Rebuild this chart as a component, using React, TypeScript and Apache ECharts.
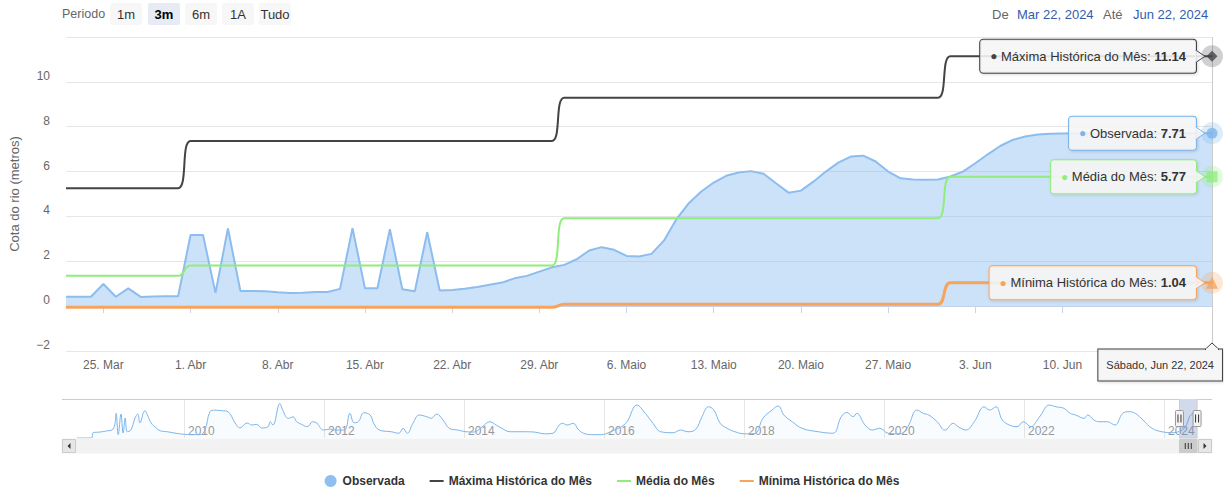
import React, { useEffect, useRef } from "react";
import * as echarts from "echarts";

const FONT = '"Lucida Grande", "Lucida Sans Unicode", "Liberation Sans", Arial, sans-serif';

// ---- data ----
const startDate = "2024-03-22";
// daily observed river level (m), Mar 22 .. Jun 22, 2024
const observada = [
  0.42, 0.42, 0.42, 0.99, 0.42, 0.79, 0.41, 0.43, 0.44, 0.44,
  3.17, 3.17, 0.59, 3.46, 0.68, 0.68, 0.66, 0.62, 0.59, 0.6,
  0.63, 0.63, 0.77, 3.48, 0.8, 0.8, 3.43, 0.75, 0.66, 3.3,
  0.7, 0.72, 0.78, 0.85, 0.95, 1.05, 1.24, 1.35, 1.54, 1.73,
  1.84, 2.09, 2.48, 2.63, 2.51, 2.24, 2.21, 2.33, 2.92, 3.87,
  4.59, 5.11, 5.51, 5.81, 5.96, 6.02, 5.9, 5.48, 5.06, 5.15,
  5.55, 6.0, 6.4, 6.67, 6.71, 6.45, 6.0, 5.7, 5.65, 5.63,
  5.65, 5.78, 6.0, 6.37, 6.77, 7.14, 7.41, 7.56, 7.65, 7.69,
  7.7, 7.71, 7.71, 7.71, 7.71, 7.71, 7.71, 7.71, 7.71, 7.71,
  7.71, 7.71, 7.71,
];
// monthly reference values (months: Mar, Apr, May, Jun — 0-based month index)
const months = [2, 3, 4, 5];
const maximaMes = [5.26, 7.36, 9.29, 11.14];
const mediaMes = [1.35, 1.81, 3.92, 5.77];
const minimaMes = [-0.05, -0.05, 0.08, 1.04];

// visible x tick labels (the 17. Jun one is hidden under the crosshair label in the reference)
const tickDates = [
  "2024-03-25", "2024-04-01", "2024-04-08", "2024-04-15", "2024-04-22", "2024-04-29",
  "2024-05-06", "2024-05-13", "2024-05-20", "2024-05-27", "2024-06-03", "2024-06-10",
];
const tickLabels = [
  "25. Mar", "1. Abr", "8. Abr", "15. Abr", "22. Abr", "29. Abr",
  "6. Maio", "13. Maio", "20. Maio", "27. Maio", "3. Jun", "10. Jun",
];

// navigator (full history), x in decimal years
const navYears = [
  2008.47, 2008.68, 2008.7, 2008.8, 2008.91, 2008.97, 2009.01, 2009.03, 2009.06, 2009.1, 2009.13, 2009.16,
  2009.19, 2009.24, 2009.3, 2009.34, 2009.37, 2009.44, 2009.49, 2009.53, 2009.59, 2009.66, 2009.76, 2009.84,
  2009.94, 2010.09, 2010.23, 2010.3, 2010.37, 2010.44, 2010.54, 2010.63, 2010.73, 2010.8, 2010.9, 2010.97,
  2011.04, 2011.11, 2011.2, 2011.23, 2011.27, 2011.37, 2011.41, 2011.49, 2011.56, 2011.61, 2011.7, 2011.76,
  2011.84, 2011.9, 2011.99, 2012.09, 2012.14, 2012.29, 2012.37, 2012.43, 2012.49, 2012.57, 2012.66, 2012.71,
  2012.79, 2012.96, 2013.07, 2013.13, 2013.19, 2013.27, 2013.36, 2013.47, 2013.53, 2013.61, 2013.7, 2013.79,
  2013.91, 2014.03, 2014.14, 2014.26, 2014.37, 2014.46, 2014.54, 2014.66, 2014.83, 2015.0, 2015.16, 2015.27,
  2015.36, 2015.41, 2015.47, 2015.56, 2015.64, 2015.73, 2015.84, 2015.96, 2016.09, 2016.31, 2016.47, 2016.59,
  2016.7, 2016.81, 2016.99, 2017.09, 2017.2, 2017.31, 2017.4, 2017.49, 2017.57, 2017.66, 2017.76, 2017.87,
  2018.01, 2018.16, 2018.27, 2018.4, 2018.49, 2018.57, 2018.69, 2018.83, 2019.06, 2019.27, 2019.39, 2019.47,
  2019.56, 2019.61, 2019.73, 2019.83, 2019.94, 2020.06, 2020.23, 2020.34, 2020.47, 2020.56, 2020.64, 2020.76,
  2020.87, 2020.99, 2021.06, 2021.17, 2021.29, 2021.43, 2021.51, 2021.6, 2021.69, 2021.79, 2021.9, 2021.99,
  2022.1, 2022.19, 2022.24, 2022.36, 2022.46, 2022.57, 2022.66, 2022.74, 2022.86, 2022.91, 2023.0, 2023.07,
  2023.19, 2023.3, 2023.41, 2023.5, 2023.59, 2023.7, 2023.83, 2023.97, 2024.14, 2024.22, 2024.3, 2024.37,
  2024.4, 2024.44, 2024.47,
];
const navValues = [
  -2, -2, -0.1, 0.14, 0.6, 0.86, 2.66, 6.86, -0.8, 6.6, -0.2, 5.2,
  0.25, 0.86, 5.17, 6.6, 3.4, 7.8, 5.6, 3.4, 1.9, 0.6, 0.25, -0.1,
  -0.5, -0.8, -0.8, 0.86, 7.4, 8.0, 7.8, 7.4, 3.4, 1.6, 3.4, 2.66,
  2.9, 1.6, 2.05, 3.84, 2.66, 10.4, 8.0, 5.06, 5.6, 3.84, 2.66, 2.05,
  3.84, 3.27, 0.86, 1.2, 0.86, 0.86, 6.86, 3.48, 3.84, 7.07, 6.25, 3.27,
  0.86, 0.25, -0.3, 1.47, -0.3, 3.27, 6.25, 5.64, 5.06, 6.6, 4.45, 1.47,
  0.86, 0.25, 0.14, 2.05, 3.84, 2.66, 1.47, 0.25, 0.25, 0.14, -0.5, -0.3,
  2.66, 3.27, 2.66, 3.27, 0.86, -0.5, -0.8, -0.8, 0.25, 3.27, 9.83, 6.86,
  3.27, 0.25, -0.1, 0.86, 0.25, 1.1, 5.64, 9.2, 8.04, 3.27, 1.47, 0.25,
  -0.5, -0.3, 5.06, 8.04, 9.48, 6.25, 3.84, 1.47, 0.25, -0.3, 5.64, 7.2,
  5.64, 6.86, 2.66, 0.86, 1.47, -0.3, -0.5, 2.05, 8.04, 6.86, 6.25, 3.84,
  0.86, 3.27, 2.05, 0.86, 3.84, 9.2, 8.04, 9.2, 4.45, 2.66, 2.05, 3.84,
  2.05, 4.45, 6.25, 9.83, 9.2, 8.65, 6.86, 6.25, 5.06, 6.25, 4.45, 3.84,
  3.84, 2.66, 6.86, 7.43, 6.86, 4.45, 1.47, 0.25, -0.1, 0.42, 1.7, 5.9,
  6.6, 7.2, 7.71,
];
const navRange = [2008.257, 2024.686];

const rangeButtons = ["1m", "3m", "6m", "1A", "Tudo"];
const selectedButton = "3m";
const weekdaysPt = ["Domingo", "Segunda", "Terça", "Quarta", "Quinta", "Sexta", "Sábado"];
const monthsShort = ["Jan", "Feb", "Mar", "Apr", "May", "Jun", "Jul", "Aug", "Sep", "Oct", "Nov", "Dec"];

const NAMES = {
  obs: "Observada",
  max: "Máxima Histórica do Mês",
  med: "Média do Mês",
  min: "Mínima Histórica do Mês",
};
const COLORS = { obs: "#7cb5ec", max: "#434348", med: "#90ed7d", min: "#f7a35c" };
const LINE_ICON = "path://M0,0H14V2H0Z";

const DAY = 86400000;
const utc = (s: string) => Date.parse(s + "T00:00:00Z");
const START = utc(startDate);
const dates = observada.map((_, i) => START + i * DAY);
const END = dates[dates.length - 1];

const monthlyDaily = (vals: number[]) =>
  dates.map((t) => [t, vals[months.indexOf(new Date(t).getUTCMonth())]]);

const decYear = (t: number) => {
  const y = new Date(t).getUTCFullYear();
  const a = Date.UTC(y, 0, 1);
  const b = Date.UTC(y + 1, 0, 1);
  return y + (t - a) / (b - a);
};
const fmtDate = (t: number) => {
  const d = new Date(t);
  return `${monthsShort[d.getUTCMonth()]} ${d.getUTCDate()}, ${d.getUTCFullYear()}`;
};

export default function App() {
  const ref = useRef<HTMLDivElement>(null);
  useEffect(() => {
    document.body.style.margin = "0";
    const chart = echarts.init(ref.current!, null, { renderer: "svg" });
    const tickTs = tickDates.map(utc);
    const labelMap: Record<number, string> = {};
    tickTs.forEach((t, i) => (labelMap[t] = tickLabels[i]));

    const lastObs = observada[observada.length - 1];
    const lastMax = maximaMes[maximaMes.length - 1];
    const lastMed = mediaMes[mediaMes.length - 1];
    const lastMin = minimaMes[minimaMes.length - 1];

    const lineSeries = (name: string, color: string, vals: number[], width: number) => ({
      name,
      type: "line",
      data: monthlyDaily(vals),
      smooth: 0.5,
      symbol: "none",
      silent: true,
      lineStyle: { color, width },
      itemStyle: { color },
      z: 3,
    });

    chart.setOption({
      animation: false,
      textStyle: { fontFamily: FONT },
      grid: [
        { left: 62, right: 12, top: 37, height: 314 },
        { left: 62, right: 12, top: 399, height: 39 },
      ],
      legend: {
        top: 470,
        left: "center",
        itemWidth: 14,
        itemHeight: 12,
        itemGap: 25,
        itemTextGap: 6,
        selectedMode: false,
        textStyle: { fontFamily: FONT, fontWeight: "bold", fontSize: 12, color: "#333" },
        data: [
          { name: NAMES.obs, icon: "circle", itemStyle: { color: "#8fbff0" } },
          { name: NAMES.max, icon: LINE_ICON, itemStyle: { color: COLORS.max } },
          { name: NAMES.med, icon: LINE_ICON, itemStyle: { color: COLORS.med } },
          { name: NAMES.min, icon: LINE_ICON, itemStyle: { color: COLORS.min } },
        ],
      },
      xAxis: [
        {
          type: "value",
          gridIndex: 0,
          min: START,
          max: END,
          axisLine: { lineStyle: { color: "#ccd6eb" } },
          axisTick: { customValues: tickTs, length: 7, lineStyle: { color: "#ccd6eb" } },
          axisLabel: {
            customValues: tickTs,
            formatter: (v: number) => labelMap[v] ?? "",
            color: "#666",
            fontSize: 12,
            fontFamily: FONT,
            margin: 8,
          },
          splitLine: { show: false },
        },
        {
          type: "value",
          gridIndex: 1,
          min: navRange[0],
          max: navRange[1],
          splitNumber: 8,
          axisLine: { show: false },
          axisTick: { show: false },
          axisLabel: {
            inside: true,
            align: "left",
            verticalAlign: "bottom",
            margin: 1,
            padding: [0, 0, 0, 4],
            color: "#999",
            fontSize: 12,
            fontFamily: FONT,
            formatter: (v: number) => (Number.isInteger(v) ? String(v) : ""),
            showMinLabel: false,
            showMaxLabel: false,
          },
          splitLine: { show: true, showMinLine: false, showMaxLine: false, lineStyle: { color: "#e6e6e6" } },
        },
      ],
      yAxis: [
        {
          type: "value",
          gridIndex: 0,
          min: -2,
          max: 12,
          interval: 2,
          name: "Cota do rio (metros)",
          nameLocation: "middle",
          nameGap: 45,
          nameTextStyle: { color: "#666", fontSize: 13, fontFamily: FONT },
          axisLine: { show: false },
          axisTick: { show: false },
          axisLabel: {
            color: "#666",
            fontSize: 12,
            fontFamily: FONT,
            verticalAlign: "bottom",
            margin: 16,
            showMaxLabel: false,
            formatter: (v: number) => (v < 0 ? "\u2212" + Math.abs(v) : String(v)),
          },
          splitLine: { lineStyle: { color: "#e6e6e6" } },
        },
        { type: "value", gridIndex: 1, min: -2, max: 12, show: false, splitLine: { show: false } },
      ],
      series: [
        {
          name: NAMES.obs,
          type: "line",
          data: dates.map((t, i) => [t, observada[i]]),
          symbol: "none",
          silent: true,
          lineStyle: { color: "#8dbdee", width: 2 },
          itemStyle: { color: COLORS.obs },
          areaStyle: { color: "rgba(124,181,236,0.56)" },
          z: 2,
          markLine: {
            silent: true,
            symbol: ["none", "none"],
            label: { show: false },
            lineStyle: { color: "#cccccc", width: 1, type: "solid" },
            data: [{ xAxis: END }],
          },
        },
        lineSeries(NAMES.max, COLORS.max, maximaMes, 2),
        lineSeries(NAMES.med, COLORS.med, mediaMes, 2),
        lineSeries(NAMES.min, COLORS.min, minimaMes, 3),
        {
          name: "halo",
          type: "scatter",
          silent: true,
          clip: false,
          z: 5,
          symbol: "circle",
          symbolSize: 22,
          data: [
            { value: [END, lastObs], itemStyle: { color: COLORS.obs, opacity: 0.25 } },
            { value: [END, lastMax], itemStyle: { color: COLORS.max, opacity: 0.25 } },
            { value: [END, lastMed], itemStyle: { color: COLORS.med, opacity: 0.25 } },
            { value: [END, lastMin], itemStyle: { color: COLORS.min, opacity: 0.25 } },
          ],
        },
        {
          name: "hover",
          type: "scatter",
          silent: true,
          clip: false,
          z: 6,
          data: [
            { value: [END, lastObs], symbol: "circle", symbolSize: 11, itemStyle: { color: COLORS.obs } },
            { value: [END, lastMax], symbol: "diamond", symbolSize: 11, itemStyle: { color: COLORS.max } },
            { value: [END, lastMed], symbol: "rect", symbolSize: 11, itemStyle: { color: COLORS.med } },
            { value: [END, lastMin], symbol: "triangle", symbolSize: 12, itemStyle: { color: COLORS.min } },
          ],
        },
        {
          name: "navigator",
          type: "line",
          xAxisIndex: 1,
          yAxisIndex: 1,
          data: navYears.map((y, i) => [y, navValues[i]]),
          smooth: 0.4,
          symbol: "none",
          silent: true,
          lineStyle: { color: COLORS.obs, width: 1 },
          areaStyle: { color: "rgba(124,181,236,0.06)", origin: "start" },
        },
      ],
    });

    // ---- overlays positioned through the chart's coordinate systems ----
    const W = chart.getWidth();
    const toPx = (v: number) => chart.convertToPixel({ gridIndex: 0 }, [END, v]) as number[];
    const g: any[] = [];

    const tip = (name: string, val: number, color: string) => {
      const [px, py] = toPx(val);
      const bx = px - 16;
      const bg = "rgba(247,247,247,0.88)";
      g.push({
        type: "text",
        z: 100,
        x: bx,
        y: py,
        style: {
          text: `{d|\u25CF} ${name}: {b|${val.toFixed(2)}}`,
          align: "right",
          verticalAlign: "middle",
          fill: "#333",
          fontSize: 13,
          fontFamily: FONT,
          lineHeight: 15,
          backgroundColor: bg,
          borderColor: color,
          borderWidth: 1,
          borderRadius: 3,
          padding: [9, 10, 9, 10],
          shadowColor: "rgba(0,0,0,0.15)",
          shadowBlur: 3,
          shadowOffsetX: 1,
          shadowOffsetY: 1,
          rich: {
            d: { fill: color, fontSize: 12, lineHeight: 15, fontFamily: FONT },
            b: { fill: "#333", fontWeight: "bold", fontSize: 13, lineHeight: 15, fontFamily: FONT },
          },
        },
      });
      g.push({
        type: "polygon",
        z: 101,
        shape: { points: [[bx, py - 6], [bx + 9, py], [bx, py + 6]] },
        style: { fill: bg, stroke: color, lineWidth: 1 },
      });
      g.push({
        type: "rect",
        z: 102,
        shape: { x: bx - 1, y: py - 5.5, width: 1.8, height: 11 },
        style: { fill: "rgb(240,242,246)" },
      });
    };
    tip(NAMES.max, lastMax, COLORS.max);
    tip(NAMES.obs, lastObs, COLORS.obs);
    tip(NAMES.med, lastMed, COLORS.med);
    tip(NAMES.min, lastMin, COLORS.min);

    // crosshair date label
    const [cx] = toPx(0);
    const [, axisY] = toPx(-2);
    const endD = new Date(END);
    const crossText = `${weekdaysPt[endD.getUTCDay()]}, ${fmtDate(END)}`;
    g.push({
      type: "text",
      z: 100,
      x: W - 2,
      y: axisY + 14,
      style: {
        text: crossText,
        align: "right",
        verticalAlign: "middle",
        fill: "#333",
        fontSize: 11,
        fontFamily: FONT,
        lineHeight: 13,
        backgroundColor: "rgba(247,247,247,0.95)",
        borderColor: "#444",
        borderWidth: 1,
        padding: [9, 8, 9, 8],
        shadowColor: "rgba(0,0,0,0.15)",
        shadowBlur: 3,
        shadowOffsetX: 1,
        shadowOffsetY: 1,
      },
    });
    g.push({
      type: "polygon",
      z: 101,
      shape: { points: [[cx - 7, axisY - 1.5], [cx, axisY - 8], [cx + 7, axisY - 1.5]] },
      style: { fill: "rgba(247,247,247,0.95)", stroke: "#444", lineWidth: 1 },
    });
    g.push({
      type: "rect",
      z: 102,
      shape: { x: cx - 6, y: axisY - 2.5, width: 12, height: 2 },
      style: { fill: "rgb(247,247,247)" },
    });

    // range selector
    g.push({
      type: "text", x: 62, y: 14, z: 50,
      style: { text: "Periodo", fill: "#666", fontSize: 12.5, fontFamily: FONT, verticalAlign: "middle" },
    });
    const btnX = [110, 148, 185, 222, 259];
    rangeButtons.forEach((b, i) => {
      const sel = b === selectedButton;
      g.push({
        type: "rect", z: 50,
        shape: { x: btnX[i], y: 3, width: 32, height: 22, r: 2 },
        style: { fill: sel ? "#e6ebf5" : "#f7f7f7" },
      });
      g.push({
        type: "text", z: 51, x: btnX[i] + 16, y: 14,
        style: {
          text: b, align: "center", verticalAlign: "middle", fill: sel ? "#000" : "#333",
          fontWeight: sel ? "bold" : "normal", fontSize: 13, fontFamily: FONT,
        },
      });
    });
    // date inputs
    const dateTexts: [number, string, string][] = [
      [992, "De", "#666"],
      [1017, fmtDate(START), "#335cad"],
      [1103, "Até", "#666"],
      [1133, fmtDate(END), "#335cad"],
    ];
    dateTexts.forEach(([x, t, c]) =>
      g.push({
        type: "text", z: 50, x, y: 14,
        style: { text: t, fill: c, fontSize: 13, fontFamily: FONT, verticalAlign: "middle" },
      })
    );

    // navigator selection, handles, scrollbar
    const nav0 = chart.convertToPixel({ gridIndex: 1 }, [decYear(START), 12]) as number[];
    const nav1 = chart.convertToPixel({ gridIndex: 1 }, [decYear(END), -2]) as number[];
    const navL = chart.convertToPixel({ gridIndex: 1 }, [navRange[0], 0]) as number[];
    const navR = chart.convertToPixel({ gridIndex: 1 }, [navRange[1], 0]) as number[];
    const top = nav0[1];
    const bot = nav1[1];
    const sx0 = nav0[0];
    const sx1 = nav1[0];
    g.push({
      type: "rect", z: 40,
      shape: { x: sx0, y: top, width: sx1 - sx0, height: bot - top },
      style: { fill: "rgba(102,133,194,0.3)" },
    });
    g.push({
      type: "polyline", z: 41,
      shape: { points: [[navL[0], top + 0.5], [sx0, top + 0.5], [sx0, bot], [sx1, bot], [sx1, top + 0.5], [navR[0], top + 0.5]] },
      style: { stroke: "#cccccc", lineWidth: 1, fill: "none" },
    });
    const hy = (top + bot) / 2 - 8;
    [sx0, sx1].forEach((x) => {
      g.push({
        type: "rect", z: 42,
        shape: { x: x - 4, y: hy, width: 8, height: 16, r: 1 },
        style: { fill: "#f2f2f2", stroke: "#999", lineWidth: 1 },
      });
      [-1.5, 1.5].forEach((dx) =>
        g.push({
          type: "line", z: 43,
          shape: { x1: x + dx, y1: hy + 4, x2: x + dx, y2: hy + 12 },
          style: { stroke: "#333", lineWidth: 1 },
        })
      );
    });
    const sbY = bot + 1;
    const sbH = 14;
    g.push({
      type: "rect", z: 40,
      shape: { x: navL[0], y: sbY, width: navR[0] - navL[0], height: sbH },
      style: { fill: "#f2f2f2", stroke: "#f2f2f2" },
    });
    [navL[0], navR[0] - 14].forEach((x, i) => {
      g.push({
        type: "rect", z: 41,
        shape: { x: x + 0.5, y: sbY + 0.5, width: 13, height: sbH - 1 },
        style: { fill: "#e6e6e6", stroke: "#cccccc", lineWidth: 1 },
      });
      const c = x + 7;
      const m = sbY + sbH / 2;
      g.push({
        type: "polygon", z: 42,
        shape: { points: i === 0 ? [[c + 1.5, m - 3], [c - 1.5, m], [c + 1.5, m + 3]] : [[c - 1.5, m - 3], [c + 1.5, m], [c - 1.5, m + 3]] },
        style: { fill: "#333" },
      });
    });
    g.push({
      type: "rect", z: 41,
      shape: { x: sx0, y: sbY + 0.5, width: sx1 - sx0, height: sbH - 1 },
      style: { fill: "#cccccc", stroke: "#cccccc", lineWidth: 1 },
    });
    const mx = (sx0 + sx1) / 2;
    [-3, 0, 3].forEach((dx) =>
      g.push({
        type: "line", z: 42,
        shape: { x1: mx + dx, y1: sbY + 4, x2: mx + dx, y2: sbY + 10 },
        style: { stroke: "#333", lineWidth: 1 },
      })
    );

    chart.setOption({ graphic: g });
    return () => chart.dispose();
  }, []);
  return <div ref={ref} style={{ width: 1224, height: 488 }} />;
}
